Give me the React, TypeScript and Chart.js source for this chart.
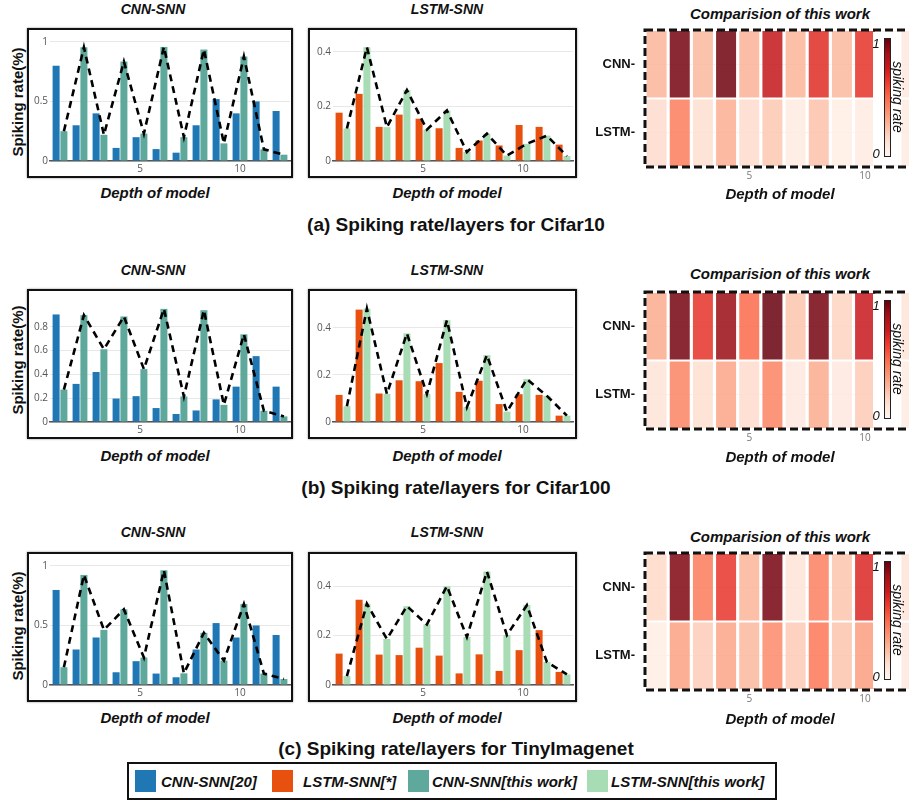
import React, { useEffect, useRef } from 'react';
import { Chart, registerables } from 'chart.js';

Chart.register(...registerables);
Chart.defaults.font.family = "'Open Sans', 'Liberation Sans', sans-serif";

// ---------------- data ----------------
const depth = ['1', '2', '3', '4', '5', '6', '7', '8', '9', '10', '11', '12'];
const shownDepthTicks = ['5', '10'];
const heatRows = ['LSTM-', 'CNN-']; // bottom to top

const cnnTicks = [0, 0.5, 1];
const cnnTicks100 = [0, 0.2, 0.4, 0.6, 0.8];
const lstmTicks = [0, 0.2, 0.4];

// (a) Cifar10
const c10CnnPrev = [0.8, 0.3, 0.4, 0.11, 0.2, 0.1, 0.07, 0.3, 0.52, 0.4, 0.5, 0.42];
const c10CnnOurs = [0.25, 0.955, 0.22, 0.835, 0.23, 0.958, 0.2, 0.936, 0.148, 0.877, 0.098, 0.053];
const c10LstmPrev = [0.177, 0.246, 0.125, 0.17, 0.155, 0.12, 0.048, 0.075, 0.057, 0.132, 0.125, 0.06];
const c10LstmOurs = [0.119, 0.417, 0.124, 0.26, 0.115, 0.185, 0.033, 0.1, 0.02, 0.063, 0.093, 0.018];
const c10HeatCnn = [0.27, 0.97, 0.26, 0.98, 0.28, 0.78, 0.27, 0.68, 0.26, 0.66, 0.05, 0.07];
const c10HeatLstm = [0.14, 0.44, 0.13, 0.29, 0.14, 0.21, 0.06, 0.23, 0.05, 0.06, 0.04, 0.06];

// (b) Cifar100
const c100CnnPrev = [0.903, 0.32, 0.42, 0.197, 0.217, 0.117, 0.067, 0.097, 0.19, 0.297, 0.553, 0.297];
const c100CnnOurs = [0.272, 0.897, 0.611, 0.886, 0.444, 0.95, 0.214, 0.939, 0.144, 0.736, 0.094, 0.047];
const c100LstmPrev = [0.115, 0.477, 0.121, 0.177, 0.173, 0.25, 0.128, 0.175, 0.076, 0.118, 0.115, 0.027];
const c100LstmOurs = [0.067, 0.481, 0.119, 0.376, 0.119, 0.432, 0.063, 0.284, 0.044, 0.182, 0.111, 0.027];
const c100HeatCnn = [0.3, 0.97, 0.66, 0.9, 0.5, 1.0, 0.22, 0.97, 0.17, 0.76, 0.05, 0.1];
const c100HeatLstm = [0.1, 0.42, 0.13, 0.32, 0.14, 0.42, 0.07, 0.3, 0.07, 0.2, 0.04, 0.06];

// (c) TinyImagenet
const tinyCnnPrev = [0.798, 0.298, 0.399, 0.107, 0.2, 0.096, 0.065, 0.298, 0.52, 0.399, 0.5, 0.42];
const tinyCnnOurs = [0.149, 0.924, 0.463, 0.635, 0.23, 0.963, 0.098, 0.438, 0.205, 0.68, 0.096, 0.05];
const tinyLstmPrev = [0.127, 0.345, 0.123, 0.121, 0.151, 0.119, 0.047, 0.124, 0.057, 0.141, 0.222, 0.053];
const tinyLstmOurs = [0.036, 0.329, 0.186, 0.319, 0.245, 0.4, 0.194, 0.459, 0.202, 0.323, 0.093, 0.043];
const tinyHeatCnn = [0.15, 0.95, 0.45, 0.65, 0.27, 0.97, 0.1, 0.43, 0.22, 0.7, 0.05, 0.1];
const tinyHeatLstm = [0.05, 0.33, 0.19, 0.32, 0.26, 0.4, 0.2, 0.46, 0.22, 0.34, 0.04, 0.07];

const legendLabels = ['CNN-SNN[20]', 'LSTM-SNN[*]', 'CNN-SNN[this work]', 'LSTM-SNN[this work]'];

// ---------------- styles ----------------
const BLUE = '#1f77b4';
const ORANGE = '#e8500f';
const TEAL = '#5ea99b';
const LGREEN = '#a8dcb4';
const SANS = "'Liberation Sans', Arial, sans-serif";
const REDS = ['#fff5f0', '#fee0d2', '#fcbba1', '#fc9272', '#fb6a4a', '#ef3b2c', '#cb181d', '#a50f15', '#67000d'];
const CAT_PCT = 0.78;
const BAR_PCT = 0.9;

function hexToRgb(h: string) {
  return [parseInt(h.slice(1, 3), 16), parseInt(h.slice(3, 5), 16), parseInt(h.slice(5, 7), 16)];
}
function reds(v: number) {
  const c = Math.max(0, Math.min(1, v)) * (REDS.length - 1);
  const i = Math.min(REDS.length - 2, Math.floor(c));
  const t = c - i;
  const a = hexToRgb(REDS[i]);
  const b = hexToRgb(REDS[i + 1]);
  const m = a.map((x, k) => Math.round(x + (b[k] - x) * t));
  return `rgba(${m[0]},${m[1]},${m[2]},0.85)`;
}

const noPad = (s: any) => { s.paddingTop = 0; s.paddingBottom = 0; s.paddingLeft = 0; s.paddingRight = 0; };

// put each point of the dashed trend line on the centre of the matching "this work" bar
const alignLine = {
  id: 'alignLine',
  afterDatasetsUpdate(chart: any) {
    const bars = chart.getDatasetMeta(1).data;
    const pts = chart.getDatasetMeta(2).data;
    pts.forEach((pt: any, i: number) => { if (bars[i]) pt.x = bars[i].x; });
  },
};

type BarProps = {
  left: number; top: number; width: number; yAxisW: number; padRight: number;
  prev: number[]; ours: number[]; prevColor: string; oursColor: string;
  yTicks: number[]; yMax: number;
};

function BarPanel(p: BarProps) {
  const ref = useRef<HTMLCanvasElement>(null);
  useEffect(() => {
    const chart = new Chart(ref.current as HTMLCanvasElement, {
      type: 'bar',
      data: {
        labels: depth,
        datasets: [
          { type: 'bar', data: p.prev, backgroundColor: p.prevColor, order: 2, categoryPercentage: CAT_PCT, barPercentage: BAR_PCT },
          { type: 'bar', data: p.ours, backgroundColor: p.oursColor, order: 2, categoryPercentage: CAT_PCT, barPercentage: BAR_PCT },
          {
            type: 'line', data: p.ours,
            borderColor: '#000', borderWidth: 2.6, borderDash: [7, 5],
            pointRadius: 0, fill: false, tension: 0, order: 0,
          } as any,
        ],
      },
      options: {
        animation: false, responsive: false, maintainAspectRatio: false,
        layout: { padding: { left: 0, right: p.padRight, top: 0, bottom: 0 } },
        plugins: { legend: { display: false }, tooltip: { enabled: false } },
        scales: {
          x: {
            type: 'category', grid: { display: false, drawTicks: false }, border: { display: true, color: '#555', width: 1.5 },
            ticks: {
              autoSkip: false, maxRotation: 0, padding: 2, color: '#555', font: { size: 10 },
              callback: (_v: any, i: number) => (shownDepthTicks.includes(depth[i]) ? depth[i] : ''),
            },
            afterFit: (s: any) => { s.height = 15; noPad(s); },
          },
          y: {
            min: 0, max: p.yMax,
            grid: { color: '#e8e8e8', drawTicks: false }, border: { display: false },
            ticks: { color: '#555', font: { size: 10 }, padding: 2, callback: (v: any) => String(v) },
            afterBuildTicks: (a: any) => { a.ticks = p.yTicks.map((v) => ({ value: v })); },
            afterFit: (s: any) => { s.width = p.yAxisW; noPad(s); },
          },
        } as any,
      },
      plugins: [alignLine],
    });
    return () => chart.destroy();
  }, []);
  return (
    <div style={{ position: 'absolute', left: p.left, top: p.top, width: p.width, height: 150, boxSizing: 'border-box', border: '2px solid #111', boxShadow: '0 0 2px rgba(0,0,0,0.45)', background: '#fff' }}>
      <canvas ref={ref} width={p.width - 4} height={146} style={{ position: 'absolute', left: 0, top: 0, width: p.width - 4, height: 146 }} />
    </div>
  );
}

const dashedFrame = {
  id: 'dashedFrame',
  afterDraw(chart: any) {
    const { ctx, chartArea: a } = chart;
    ctx.save();
    ctx.setLineDash([8, 4]);
    ctx.lineWidth = 3;
    ctx.strokeStyle = '#111';
    ctx.strokeRect(a.left, a.top, a.right - a.left, a.bottom - a.top);
    ctx.restore();
  },
};

function HeatPanel({ chartTop, cnn, lstm }: { chartTop: number; cnn: number[]; lstm: number[] }) {
  const ref = useRef<HTMLCanvasElement>(null);
  useEffect(() => {
    const rowsVals = [lstm, cnn];
    const chart = new Chart(ref.current as HTMLCanvasElement, {
      type: 'bar',
      data: {
        labels: depth,
        datasets: rowsVals.map((vals, r) => ({
          data: vals.map(() => [r, r + 1]) as any,
          backgroundColor: vals.map(reds),
          borderColor: '#ffffff', borderWidth: 1, borderSkipped: false,
          grouped: false, categoryPercentage: 1, barPercentage: 0.95,
        })) as any,
      },
      options: {
        animation: false, responsive: false, maintainAspectRatio: false,
        layout: { padding: { left: 0, right: 7, top: 8, bottom: 0 } },
        plugins: { legend: { display: false }, tooltip: { enabled: false } },
        scales: {
          x: {
            type: 'category', grid: { display: false, drawTicks: false }, border: { display: false },
            ticks: {
              autoSkip: false, maxRotation: 0, padding: 3, color: '#777', font: { size: 10 },
              callback: (_v: any, i: number) => (shownDepthTicks.includes(depth[i]) ? depth[i] : ''),
            },
            afterFit: (s: any) => { s.height = 22; noPad(s); },
          },
          y: {
            min: 0, max: heatRows.length,
            grid: { color: 'rgba(0,0,0,0.07)', drawTicks: false }, border: { display: false },
            ticks: { color: '#111', padding: 10, font: { size: 13, weight: 'bold', family: SANS }, callback: (v: any) => heatRows[Math.floor(v)] },
            afterBuildTicks: (a: any) => { a.ticks = heatRows.map((_r, i) => ({ value: i + 0.5 })); },
            afterFit: (s: any) => { s.width = 55; noPad(s); },
          },
        } as any,
      },
      plugins: [dashedFrame],
    });
    return () => chart.destroy();
  }, []);
  const grad = `linear-gradient(to top, ${REDS.join(', ')})`;
  return (
    <>
      <canvas ref={ref} width={340} height={167} style={{ position: 'absolute', left: 590, top: chartTop - 8, width: 340, height: 167 }} />
      <div style={{ position: 'absolute', left: 873, top: chartTop + 2, width: 25, height: 133, background: '#fff' }} />
      <div style={{ position: 'absolute', left: 884, top: chartTop + 8, width: 7, height: 119, boxSizing: 'border-box', border: '1px solid #222', background: grad }} />
      <Txt x={876} y={chartTop + 13} size={13} bold={false} italic>1</Txt>
      <Txt x={876} y={chartTop + 123} size={13} bold={false} italic>0</Txt>
      <Txt x={898} y={chartTop + 67} size={14} bold={false} italic rotate={90}>spiking rate</Txt>
    </>
  );
}

function Txt({ x, y, size, bold = true, italic = false, rotate, children }: any) {
  return (
    <div style={{
      position: 'absolute', left: x, top: y,
      transform: `translate(-50%,-50%)${rotate ? ` rotate(${rotate}deg)` : ''}`,
      fontSize: size, fontWeight: bold ? 700 : 400, fontStyle: italic ? 'italic' : 'normal',
      fontFamily: SANS, whiteSpace: 'nowrap', lineHeight: 1, color: '#111',
    }}>{children}</div>
  );
}

type RowCfg = {
  caption: string; boxTop: number; heatTop: number; titleY: number; heatTitleY: number; depthY: number; captionY: number; yTitleY: number;
  cnnPrev: number[]; cnnOurs: number[]; lstmPrev: number[]; lstmOurs: number[]; heatCnn: number[]; heatLstm: number[];
  cnnTicks: number[]; lstmMax: number;
};

const rows: RowCfg[] = [
  { caption: '(a) Spiking rate/layers for Cifar10', boxTop: 28, heatTop: 30, titleY: 9, heatTitleY: 13, depthY: 192, captionY: 224, yTitleY: 102,
    cnnPrev: c10CnnPrev, cnnOurs: c10CnnOurs, lstmPrev: c10LstmPrev, lstmOurs: c10LstmOurs, heatCnn: c10HeatCnn, heatLstm: c10HeatLstm, cnnTicks: cnnTicks, lstmMax: 0.48 },
  { caption: '(b) Spiking rate/layers for Cifar100', boxTop: 289, heatTop: 292, titleY: 270, heatTitleY: 273, depthY: 455, captionY: 487, yTitleY: 360,
    cnnPrev: c100CnnPrev, cnnOurs: c100CnnOurs, lstmPrev: c100LstmPrev, lstmOurs: c100LstmOurs, heatCnn: c100HeatCnn, heatLstm: c100HeatLstm, cnnTicks: cnnTicks100, lstmMax: 0.556 },
  { caption: '(c) Spiking rate/layers for TinyImagenet', boxTop: 552, heatTop: 553, titleY: 532, heatTitleY: 536, depthY: 717, captionY: 748, yTitleY: 626,
    cnnPrev: tinyCnnPrev, cnnOurs: tinyCnnOurs, lstmPrev: tinyLstmPrev, lstmOurs: tinyLstmOurs, heatCnn: tinyHeatCnn, heatLstm: tinyHeatLstm, cnnTicks: cnnTicks, lstmMax: 0.53 },
];

export default function App() {
  const legendColors = [BLUE, ORANGE, TEAL, LGREEN];
  const legendSq = [135, 272, 408, 587];
  const legendTx = [161, 303, 432, 611];
  return (
    <div style={{ position: 'absolute', left: 0, top: 0, width: 909, height: 806, overflow: 'hidden', background: '#fff' }}>
      {rows.map((r, k) => (
        <React.Fragment key={k}>
          <Txt x={153} y={r.titleY} size={14} italic>CNN-SNN</Txt>
          <Txt x={447} y={r.titleY} size={14} italic>LSTM-SNN</Txt>
          <Txt x={780} y={r.heatTitleY} size={15} italic>Comparision of this work</Txt>
          <Txt x={17} y={r.yTitleY} size={15} rotate={-90}>Spiking rate(%)</Txt>
          <BarPanel left={27} top={r.boxTop} width={266} yAxisW={21} padRight={1}
            prev={r.cnnPrev} ours={r.cnnOurs} prevColor={BLUE} oursColor={TEAL} yTicks={r.cnnTicks} yMax={1.1} />
          <BarPanel left={308} top={r.boxTop} width={269} yAxisW={23} padRight={2}
            prev={r.lstmPrev} ours={r.lstmOurs} prevColor={ORANGE} oursColor={LGREEN} yTicks={lstmTicks} yMax={r.lstmMax} />
          <HeatPanel chartTop={r.heatTop} cnn={r.heatCnn} lstm={r.heatLstm} />
          <Txt x={155} y={r.depthY} size={15} italic>Depth of model</Txt>
          <Txt x={447} y={r.depthY} size={15} italic>Depth of model</Txt>
          <Txt x={780} y={r.depthY + 1} size={15} italic>Depth of model</Txt>
          <Txt x={456} y={r.captionY} size={19}>{r.caption}</Txt>
        </React.Fragment>
      ))}
      <div style={{ position: 'absolute', left: 127, top: 762, width: 650, height: 38, boxSizing: 'border-box', border: '2px solid #111' }} />
      {legendLabels.map((l, i) => (
        <React.Fragment key={l}>
          <div style={{ position: 'absolute', left: legendSq[i], top: 770, width: 21, height: 22, background: legendColors[i] }} />
          <div style={{ position: 'absolute', left: legendTx[i], top: 781, transform: 'translateY(-50%)', fontFamily: SANS, fontWeight: 700, fontStyle: 'italic', fontSize: 15, lineHeight: 1, whiteSpace: 'nowrap', color: '#111' }}>{l}</div>
        </React.Fragment>
      ))}
    </div>
  );
}
